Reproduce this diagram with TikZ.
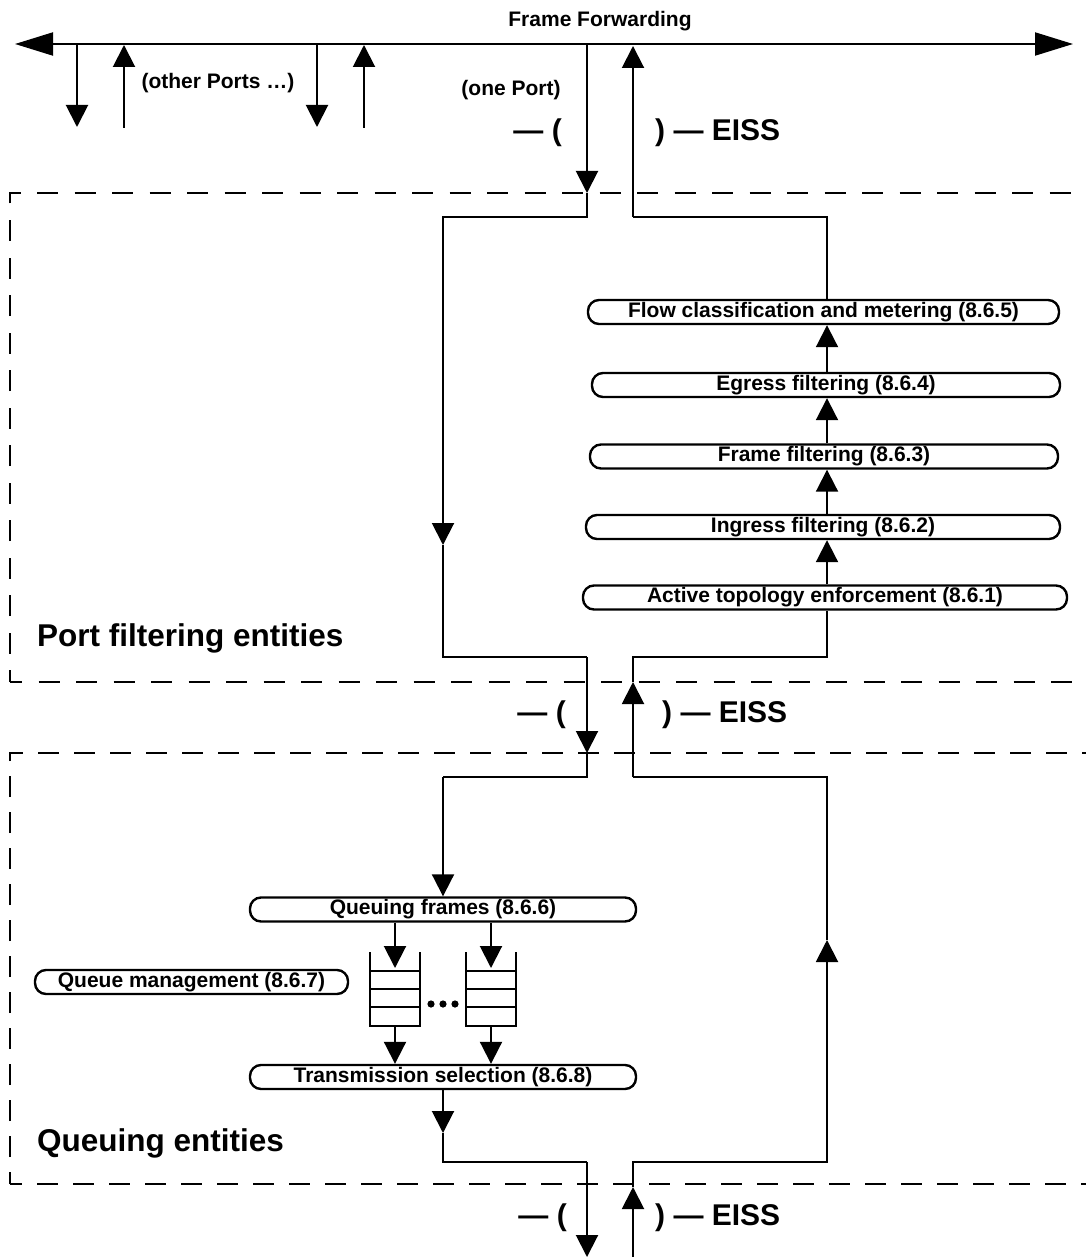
\documentclass[tikz,border=0pt]{standalone}
\usepackage{fontspec}
\setmainfont{Liberation Sans}
\usetikzlibrary{arrows.meta}
\begin{document}
\begin{tikzpicture}[x=1pt,y=-1pt,
  ln/.style={line width=2pt},
  arr/.style={line width=2pt,-{Triangle[length=22pt,width=22pt]}},
  bigarr/.style={line width=2pt,{Triangle[length=38pt,width=23pt]}-{Triangle[length=38pt,width=23pt]}},
  procbox/.style={draw,line width=2.4pt,rounded corners=11pt,minimum height=24pt,inner sep=0pt,font=\bfseries\fontsize{21}{21}\selectfont},
  lbl/.style={inner sep=0pt,font=\bfseries\fontsize{21}{21}\selectfont},
  biglbl/.style={inner sep=0pt,font=\bfseries\fontsize{30}{30}\selectfont},
  titlelbl/.style={inner sep=0pt,font=\bfseries\fontsize{31.5}{31.5}\selectfont},
  dashA/.style={line width=2.2pt,dash pattern=on 21pt off 16.5pt,dash phase=9pt},
  dashB/.style={line width=2.2pt,dash pattern=on 21pt off 15pt,dash phase=9pt},
  queue/.style={line width=2.6pt}]
\useasboundingbox (0,0) rectangle (1086,1257);

% dashed entity boxes
\draw[dashA] (10,682) -- (10,193) -- (1086,193);
\draw[dashA] (10,682) -- (1086,682);
\draw[dashB] (10,1184) -- (10,753) -- (1086,753);
\draw[dashB] (10,1184) -- (1086,1184);

% Frame forwarding line
\node[lbl] (ff) at (600,21) {Frame Forwarding};
\coordinate (ffL) at (15,44);
\coordinate (ffR) at (1073,44);
\draw[bigarr] (ffL) -- (ffR);

% other ports
\coordinate (p1t) at (77,44);  \coordinate (p1b) at (77,127);
\coordinate (p2b) at (124,128); \coordinate (p2t) at (124,45);
\coordinate (p3t) at (317,44); \coordinate (p3b) at (317,127);
\coordinate (p4b) at (364,128); \coordinate (p4t) at (364,45);
\draw[arr] (p1t) -- (p1b);
\draw[arr] (p2b) -- (p2t);
\draw[arr] (p3t) -- (p3b);
\draw[arr] (p4b) -- (p4t);
\node[lbl] (op) at (218,83) {(other Ports …)};
\node[lbl] (onep) at (511,90) {(one Port)};

% EISS labels
\node[biglbl,anchor=east] (e1l) at (562,133) {— (};
\node[biglbl,anchor=west] (e1r) at (655,133) {) — EISS};
\node[biglbl,anchor=east] (e2l) at (566,715) {— (};
\node[biglbl,anchor=west] (e2r) at (662,715) {) — EISS};
\node[biglbl,anchor=east] (e3l) at (567,1218) {— (};
\node[biglbl,anchor=west] (e3r) at (655,1218) {) — EISS};

% titles
\node[titlelbl,anchor=west] (pfe) at (37,638) {Port filtering entities};
\node[titlelbl,anchor=west] (qe) at (37,1143) {Queuing entities};

% port filtering boxes
\node[procbox,minimum width=471pt] (flow) at (823.5,312) {Flow classification and metering (8.6.5)};
\node[procbox,minimum width=468pt] (egr) at (826,385) {Egress filtering (8.6.4)};
\node[procbox,minimum width=468pt] (frf) at (824,456.5) {Frame filtering (8.6.3)};
\node[procbox,minimum width=474pt] (ing) at (823,527) {Ingress filtering (8.6.2)};
\node[procbox,minimum width=484pt] (act) at (825,597.5) {Active topology enforcement (8.6.1)};

% queuing boxes
\node[procbox,minimum width=386pt] (qf) at (443,909.5) {Queuing frames (8.6.6)};
\node[procbox,minimum width=386pt] (ts) at (443,1077) {Transmission selection (8.6.8)};
\node[procbox,minimum width=313pt] (qm) at (191.5,982) {Queue management (8.6.7)};

% queues
\draw[queue] (370,952) -- (370,1026) -- (420,1026) -- (420,952);
\draw[queue] (370,971) -- (420,971) (370,989) -- (420,989) (370,1007) -- (420,1007);
\draw[queue] (466,952) -- (466,1026) -- (516,1026) -- (516,952);
\draw[queue] (466,971) -- (516,971) (466,989) -- (516,989) (466,1007) -- (516,1007);
\fill (431,1004) circle (3.6pt) (443,1004) circle (3.6pt) (455,1004) circle (3.6pt);

% x references
\coordinate (xr) at (827,0);

% downward path
\coordinate (d0) at (587,44);
\coordinate (d1) at (587,193);
\coordinate (d2) at (587,217);
\coordinate (d3) at (443,217);
\coordinate (d4) at (443,545);
\coordinate (d5) at (443,657);
\coordinate (d6) at (587,657);
\coordinate (d7) at (587,753);
\coordinate (d8) at (587,777);
\coordinate (d9) at (443,777);
\draw[arr] (d0) -- (d1);
\draw[arr] (d1) -- (d2) -- (d3) -- (d4);
\draw[ln] (d4) -- (d5) -- (d6);
\draw[arr] (d6) -- (d7);
\draw[ln] (d7) -- (d8) -- (d9);
\draw[arr] (d9) -- (qf.north);

\coordinate (qa1) at (395,968);
\coordinate (qa2) at (491,968);
\draw[arr] (qf.south -| qa1) -- (qa1);
\draw[arr] (qf.south -| qa2) -- (qa2);
\coordinate (qb1) at (395,1026);
\coordinate (qb2) at (491,1026);
\draw[arr] (qb1) -- (ts.north -| qb1);
\draw[arr] (qb2) -- (ts.north -| qb2);

\coordinate (t1) at (443,1133);
\coordinate (t2) at (443,1162);
\coordinate (t3) at (587,1162);
\coordinate (t4) at (587,1257);
\draw[arr] (ts.south) -- (t1);
\draw[ln] (t1) -- (t2) -- (t3);
\draw[arr] (t3) -- (t4);

% upward path
\coordinate (u0) at (633,1257);
\coordinate (u1) at (633,1187);
\coordinate (u2) at (633,1162);
\coordinate (u3) at (827,1162);
\coordinate (u4) at (827,940);
\coordinate (u5) at (827,777);
\coordinate (u6) at (633,777);
\coordinate (u7) at (633,682);
\coordinate (u8) at (633,657);
\coordinate (u9) at (827,657);
\draw[arr] (u0) -- (u1);
\draw[arr] (u1) -- (u2) -- (u3) -- (u4);
\draw[ln] (u4) -- (u5) -- (u6);
\draw[arr] (u6) -- (u7);
\draw[ln] (u7) -- (u8) -- (u9) -- (act.south -| xr);

\draw[arr] (act.north -| xr) -- (ing.south -| xr);
\draw[arr] (ing.north -| xr) -- (frf.south -| xr);
\draw[arr] (frf.north -| xr) -- (egr.south -| xr);
\draw[arr] (egr.north -| xr) -- (flow.south -| xr);

\coordinate (v1) at (827,217);
\coordinate (v2) at (633,217);
\coordinate (v3) at (633,46);
\draw[ln] (flow.north -| xr) -- (v1) -- (v2);
\draw[arr] (v2) -- (v3);
\end{tikzpicture}
\end{document}
